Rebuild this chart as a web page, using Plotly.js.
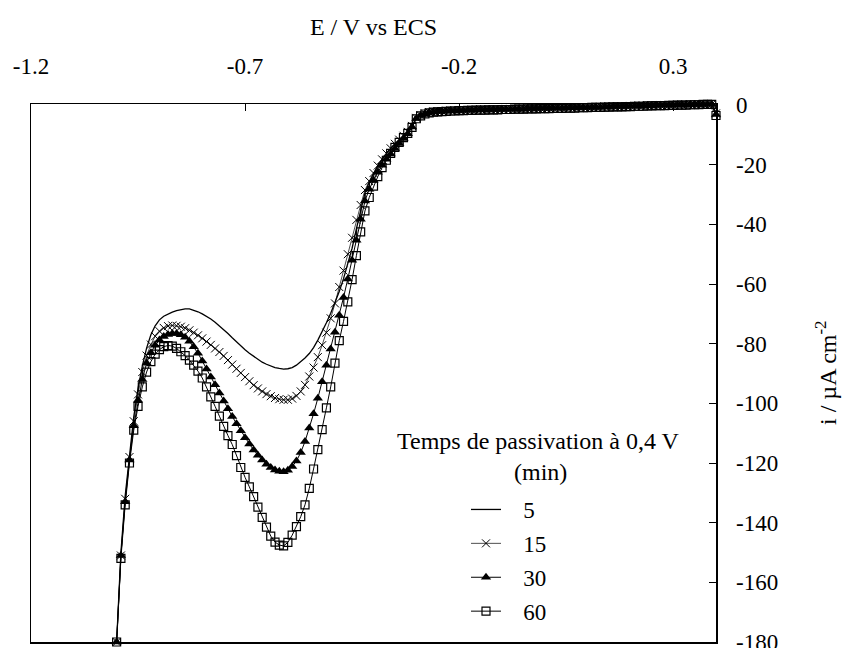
<!DOCTYPE html>
<html>
<head>
<meta charset="utf-8">
<script src="https://cdn.plot.ly/plotly-3.0.1.min.js"></script>
<style>html,body{margin:0;padding:0;background:#fff;}#chart{width:842px;height:648px;}</style>
</head>
<body>
<div id="chart"></div>
<script>
// Potential sweep (V vs ECS)
const E = [
-1.00,-0.99,-0.98,-0.97,-0.96,-0.95,-0.94,-0.93,-0.92,-0.91,
-0.90,-0.89,-0.88,-0.87,-0.86,-0.85,-0.84,-0.83,-0.82,-0.81,
-0.80,-0.79,-0.78,-0.77,-0.76,-0.75,-0.74,-0.73,-0.72,-0.71,
-0.70,-0.69,-0.68,-0.67,-0.66,-0.65,-0.64,-0.63,-0.62,-0.61,
-0.60,-0.59,-0.58,-0.57,-0.56,-0.55,-0.54,-0.53,-0.52,-0.51,
-0.50,-0.49,-0.48,-0.47,-0.46,-0.45,-0.44,-0.43,-0.42,-0.41,
-0.40,-0.39,-0.38,-0.37,-0.36,-0.35,-0.34,-0.33,-0.32,-0.31,
-0.30,-0.29,-0.28,-0.27,-0.26,-0.25,-0.24,-0.23,-0.22,-0.21,
-0.20,-0.19,-0.18,-0.17,-0.16,-0.15,-0.14,-0.13,-0.12,-0.11,
-0.10,-0.09,-0.08,-0.07,-0.06,-0.05,-0.04,-0.03,-0.02,-0.01,
0.00,0.01,0.02,0.03,0.04,0.05,0.06,0.07,0.08,0.09,
0.10,0.11,0.12,0.13,0.14,0.15,0.16,0.17,0.18,0.19,
0.20,0.21,0.22,0.23,0.24,0.25,0.26,0.27,0.28,0.29,
0.30,0.31,0.32,0.33,0.34,0.35,0.36,0.37,0.38,0.39,
0.40];

// Current density (µA cm-2) for each passivation time (min)
const i5 = [
-180,-150,-131,-116.5,-104.5,-95,-87.5,-81.5,-77,-74,
-72,-70.8,-70,-69.4,-68.9,-68.5,-68.3,-68.3,-68.7,-69.3,
-70,-70.8,-71.7,-72.8,-74,-75.3,-76.6,-78,-79.4,-80.7,
-82,-83.2,-84.3,-85.3,-86.2,-86.9,-87.5,-88,-88.3,-88.5,
-88.4,-88,-87.2,-86.1,-84.8,-83.3,-81.3,-78.8,-76,-73,
-69.8,-66.3,-62.5,-58.2,-53.5,-48,-41.5,-35,-29.5,-25.8,
-22.9,-20.4,-18.2,-16.2,-14.5,-13,-11.6,-10.3,-9,-7,
-4.3,-3.3,-2.7,-2.3,-2.1,-2.0,-1.9,-1.9,-1.8,-1.8,
-1.7,-1.7,-1.6,-1.6,-1.5,-1.5,-1.5,-1.4,-1.4,-1.4,
-1.3,-1.3,-1.3,-1.2,-1.2,-1.2,-1.1,-1.1,-1.1,-1.0,
-1.0,-1.0,-0.9,-0.9,-0.9,-0.8,-0.8,-0.8,-0.7,-0.7,
-0.7,-0.6,-0.6,-0.6,-0.5,-0.5,-0.4,-0.4,-0.4,-0.3,
-0.3,-0.3,-0.2,-0.2,-0.1,-0.1,-0.1,0.0,0.0,0.0,
0.1,0.1,0.1,0.2,0.2,0.2,0.3,0.3,0.3,0.3,
-2.5];

const i15 = [
-180,-151,-132,-118,-106,-97,-89.5,-84,-80.3,-77.5,
-75.8,-74.7,-74.1,-73.9,-74,-74.3,-74.8,-75.5,-76.3,-77.2,
-78.2,-79.3,-80.4,-81.6,-82.8,-84.1,-85.5,-87,-88.4,-89.8,
-91.2,-92.6,-93.9,-95,-96,-96.9,-97.6,-98.2,-98.6,-98.8,
-98.8,-98.4,-97.5,-96,-93.8,-91,-88,-84.5,-80.5,-76.3,
-71.5,-66.5,-61,-55.5,-50,-44.5,-38.5,-33.5,-28.5,-25.5,
-22.8,-20.3,-18.2,-16.2,-14.5,-13,-11.6,-10.3,-9,-7,
-4.3,-3.4,-2.8,-2.4,-2.2,-2.1,-2.0,-1.9,-1.9,-1.8,
-1.8,-1.7,-1.7,-1.6,-1.6,-1.5,-1.5,-1.5,-1.4,-1.4,
-1.4,-1.3,-1.3,-1.3,-1.2,-1.2,-1.2,-1.1,-1.1,-1.1,
-1.0,-1.0,-1.0,-0.9,-0.9,-0.9,-0.8,-0.8,-0.8,-0.7,
-0.7,-0.7,-0.6,-0.6,-0.5,-0.5,-0.5,-0.4,-0.4,-0.4,
-0.3,-0.3,-0.2,-0.2,-0.2,-0.1,-0.1,-0.1,0.0,0.0,
0.0,0.1,0.1,0.1,0.2,0.2,0.2,0.3,0.3,0.3,
-2.8];

const i30 = [
-180,-151,-133,-119,-107.5,-99,-92,-86.5,-83,-80.5,
-78.8,-77.6,-76.9,-76.6,-76.6,-77,-77.8,-79.2,-81,-83.2,
-85.8,-88.5,-91.2,-93.8,-96.5,-99.2,-101.8,-104.4,-106.8,-109.2,
-111.5,-113.6,-115.6,-117.4,-119,-120.4,-121.5,-122.3,-122.8,-122.9,
-122.4,-121.2,-119.3,-116.5,-112.8,-108.3,-103.5,-98.3,-92.8,-87.2,
-81.8,-76.2,-70.5,-64.5,-58.3,-52,-45.3,-38.3,-32.2,-28.2,
-25.2,-22.5,-20.2,-18.2,-16.4,-14.6,-12.9,-11.2,-9.6,-7.4,
-4.5,-3.5,-2.9,-2.5,-2.3,-2.2,-2.1,-2.0,-1.9,-1.9,
-1.8,-1.8,-1.7,-1.7,-1.6,-1.6,-1.6,-1.5,-1.5,-1.5,
-1.4,-1.4,-1.4,-1.3,-1.3,-1.3,-1.2,-1.2,-1.2,-1.1,
-1.1,-1.1,-1.0,-1.0,-1.0,-0.9,-0.9,-0.9,-0.8,-0.8,
-0.8,-0.7,-0.7,-0.7,-0.6,-0.6,-0.5,-0.5,-0.5,-0.4,
-0.4,-0.3,-0.3,-0.3,-0.2,-0.2,-0.1,-0.1,-0.1,0.0,
0.0,0.0,0.1,0.1,0.1,0.2,0.2,0.2,0.3,0.3,
-3.2];

const i60 = [
-180,-152,-134,-120,-109,-101,-94.5,-89.5,-86,-83.5,
-82,-81,-80.6,-80.8,-81.6,-82.7,-84,-85.5,-87.2,-89.2,
-91.5,-94.5,-97.8,-101,-104.3,-107.7,-110.8,-113.8,-117.5,-121.5,
-124.8,-128,-131.3,-134.8,-138.2,-141.5,-144.5,-146.5,-147.5,-147.8,
-146.6,-144.2,-141.3,-138,-134,-128.5,-122,-115.5,-108.8,-101.5,
-94.5,-86.5,-79,-72.5,-66,-58.5,-50.5,-42.5,-35.5,-31,
-27.2,-24,-21,-18.5,-16.2,-14.2,-12.5,-10.9,-9.5,-7.5,
-4.6,-3.6,-3.0,-2.6,-2.4,-2.3,-2.2,-2.1,-2.0,-2.0,
-1.9,-1.9,-1.8,-1.8,-1.7,-1.7,-1.7,-1.6,-1.6,-1.6,
-1.5,-1.5,-1.5,-1.4,-1.4,-1.4,-1.3,-1.3,-1.3,-1.2,
-1.2,-1.2,-1.1,-1.1,-1.1,-1.0,-1.0,-1.0,-0.9,-0.9,
-0.9,-0.8,-0.8,-0.8,-0.7,-0.7,-0.6,-0.6,-0.6,-0.5,
-0.5,-0.4,-0.4,-0.4,-0.3,-0.3,-0.2,-0.2,-0.2,-0.1,
-0.1,0.0,0.0,0.0,0.1,0.1,0.1,0.2,0.2,0.2,
-3.5];

const seriesNames = ['5', '15', '30', '60'];
const legendTitle = ['Temps de passivation à 0,4 V', '(min)'];
const xTickVals = [-1.2, -0.7, -0.2, 0.3];
const xTickText = ['-1.2', '-0.7', '-0.2', '0.3'];
const yTickVals = [0, -20, -40, -60, -80, -100, -120, -140, -160, -180];
const yTickText = ['0', '-20', '-40', '-60', '-80', '-100', '-120', '-140', '-160', '-180'];

const FONT = '"Liberation Serif", "Times New Roman", Times, "DejaVu Serif", serif';
const PAD = '\u00a0\u00a0\u00a0';

const traces = [
  {x: E, y: i5, name: PAD + seriesNames[0], legendgroup: 'a', mode: 'lines',
   line: {color: 'black', width: 1.3}, cliponaxis: false},
  {x: E, y: i15, name: PAD + seriesNames[1], legendgroup: 'b', mode: 'lines+markers',
   line: {color: 'black', width: 0.7},
   marker: {symbol: 'x-thin-open', size: 8, color: 'black', line: {color: 'black', width: 1}},
   cliponaxis: false},
  {x: E, y: i30, name: PAD + seriesNames[2], legendgroup: 'c', mode: 'lines+markers',
   line: {color: 'black', width: 1},
   marker: {symbol: 'triangle-up', size: 9, color: 'black'},
   cliponaxis: false},
  {x: E, y: i60, name: PAD + seriesNames[3], legendgroup: 'd', mode: 'lines+markers',
   line: {color: 'black', width: 1},
   marker: {symbol: 'square-open', size: 8, color: 'black', line: {color: 'black', width: 1.2}},
   cliponaxis: false}
];

// plot area: x 31..716, y 104..642
const PW = 685, PH = 538, PL = 31, PB = 642;
const px = v => (v - PL) / PW;
const py = v => (PB - v) / PH;

const layout = {
  width: 842, height: 648,
  margin: {l: 31, r: 126, t: 104, b: 6, pad: 0},
  paper_bgcolor: 'white', plot_bgcolor: 'white',
  font: {family: FONT, size: 23, color: 'black'},
  showlegend: true,
  xaxis: {
    side: 'top', range: [-1.2, 0.4],
    tickmode: 'array', tickvals: xTickVals, ticktext: xTickText,
    ticks: 'inside', ticklen: 7, tickwidth: 1, tickcolor: 'black',
    showline: true, linecolor: 'black', linewidth: 1.5, mirror: true,
    showgrid: false, zeroline: false,
    ticklabelstandoff: 19, ticklabeloverflow: 'allow',
    tickfont: {family: FONT, size: 23, color: 'black'},
    title: {text: 'E / V vs ECS', standoff: 12, font: {family: FONT, size: 24, color: 'black'}}
  },
  yaxis: {
    side: 'right', range: [-180, 0.35],
    tickmode: 'array', tickvals: yTickVals, ticktext: yTickText,
    ticks: 'inside', ticklen: 7, tickwidth: 1, tickcolor: 'black',
    showline: true, linecolor: 'black', linewidth: 1.5, mirror: true,
    showgrid: false, zeroline: false,
    ticklabelstandoff: 14, ticklabeloverflow: 'allow',
    tickfont: {family: FONT, size: 23, color: 'black'}
  },
  legend: {
    x: px(466), y: py(488), xanchor: 'left', yanchor: 'top',
    font: {family: FONT, size: 23, color: 'black'},
    traceorder: 'grouped', tracegroupgap: 1,
    bgcolor: 'rgba(0,0,0,0)', borderwidth: 0, itemwidth: 30
  },
  annotations: [
    {text: legendTitle[0], xref: 'paper', yref: 'paper',
     x: px(538), y: py(441), xanchor: 'center', yanchor: 'middle',
     showarrow: false, font: {family: FONT, size: 24, color: 'black'}},
    {text: legendTitle[1], xref: 'paper', yref: 'paper',
     x: px(540), y: py(472), xanchor: 'center', yanchor: 'middle',
     showarrow: false, font: {family: FONT, size: 24, color: 'black'}},
    {text: 'i / µA cm<sup>-2</sup>', xref: 'paper', yref: 'paper',
     x: px(826), y: py(373), xanchor: 'center', yanchor: 'middle',
     textangle: -90, showarrow: false, font: {family: FONT, size: 24, color: 'black'}}
  ]
};

Plotly.newPlot('chart', traces, layout, {displayModeBar: false, staticPlot: true});
</script>
</body>
</html>
